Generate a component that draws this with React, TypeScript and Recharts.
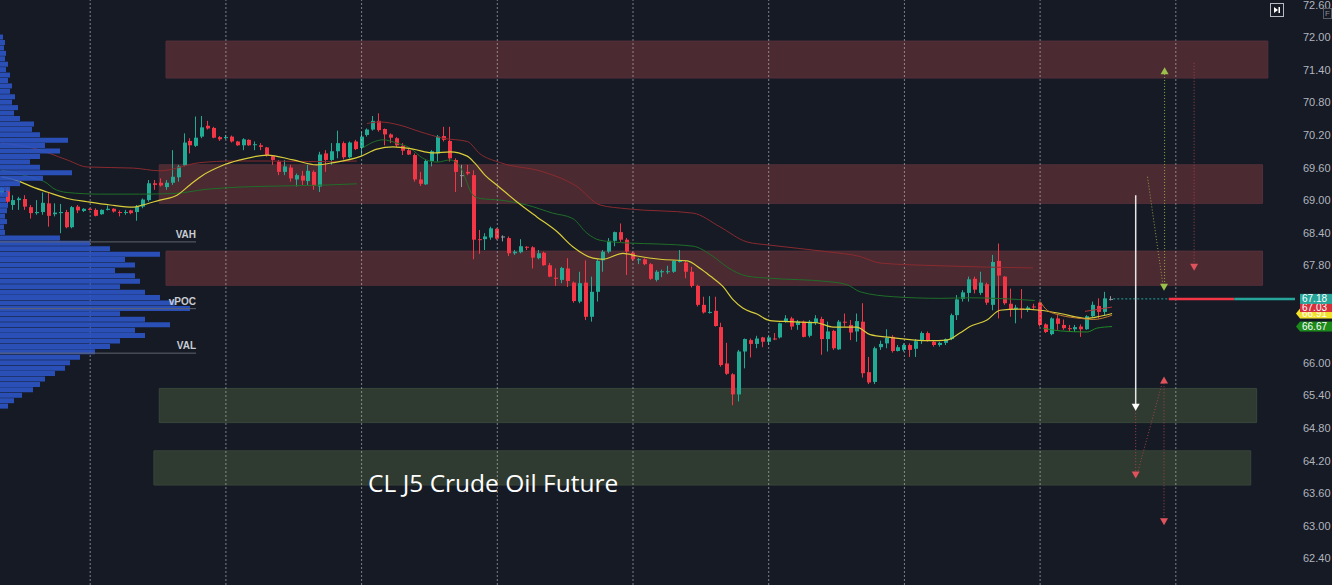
import {
  ComposedChart,
  BarChart,
  Bar,
  Line,
  XAxis,
  YAxis,
  ReferenceArea,
  ReferenceLine,
  ReferenceDot,
} from 'recharts';

const W = 1332;
const H = 585;
const AXIS_W = 37;
const PLOT_W = W - AXIS_W;
const PRICE_MIN = 61.908;
const PRICE_MAX = 72.687;
const IDX_MIN = -0.288;
const IDX_MAX = 219.2;

const BG = '#151a25';
const UP = '#22ab94';
const DOWN = '#f23645';
const FLAT = '#9598a1';
const FONT = '"Liberation Sans", Arial, sans-serif';

// hourly CL J5 candles
const opens = [
  69.13, 69.20, 68.91, 69.00, 69.02, 68.87, 68.76, 68.78, 68.94, 68.74, 68.76, 68.78, 68.50, 68.88, 68.80, 68.84, 68.82, 68.74, 68.82, 68.84,
  68.78, 68.77, 68.81, 68.78, 68.88, 69.00, 69.31, 69.32, 69.24, 69.32, 69.42, 69.64, 70.09, 70.00, 70.17, 70.37, 70.33, 70.16, 70.15, 70.17,
  70.08, 70.01, 70.11, 70.02, 70.01, 69.97, 69.81, 69.71, 69.52, 69.60, 69.38, 69.45, 69.35, 69.52, 69.25, 69.86, 69.74, 69.90, 70.05, 69.79,
  70.08, 69.96, 70.20, 70.30, 70.46, 70.31, 70.21, 70.14, 70.00, 69.92, 69.83, 69.38, 69.29, 69.72, 69.86, 70.18, 70.09, 69.74, 69.46, 69.52,
  69.46, 68.28, 68.28, 68.31, 68.47, 68.33, 68.30, 68.02, 68.04, 68.14, 68.13, 67.93, 68.03, 67.80, 67.57, 67.53, 67.74, 67.48, 67.13, 67.48,
  66.85, 67.31, 67.89, 68.05, 68.25, 68.41, 68.27, 68.03, 67.90, 67.91, 67.82, 67.53, 67.67, 67.68, 67.68, 67.86, 67.85, 67.68, 67.42, 67.07,
  66.93, 66.96, 66.66, 65.99, 65.79, 65.42, 66.21, 66.42, 66.35, 66.47, 66.39, 66.45, 66.47, 66.76, 66.82, 66.70, 66.76, 66.50, 66.74, 66.81,
  66.44, 66.59, 66.25, 66.76, 66.70, 66.58, 66.76, 65.83, 65.65, 66.29, 66.36, 66.48, 66.22, 66.24, 66.33, 66.26, 66.41, 66.55, 66.39, 66.33,
  66.37, 66.44, 66.88, 67.18, 67.29, 67.55, 67.29, 67.45, 67.07, 67.88, 67.59, 67.09, 66.99, 67.00, 66.99, 67.04, 67.11, 66.71, 66.53, 66.82,
  66.70, 66.64, 66.62, 66.67, 66.62, 66.86, 67.05, 66.94, 67.18,
];
const highs = [
  69.24, 69.24, 69.09, 69.06, 69.09, 68.91, 69.00, 69.14, 69.13, 68.94, 68.93, 68.82, 68.89, 68.91, 68.85, 68.85, 68.85, 68.83, 68.90, 68.85,
  68.81, 68.82, 68.82, 68.91, 69.03, 69.37, 69.37, 69.40, 69.37, 69.92, 69.65, 70.23, 70.14, 70.54, 70.55, 70.46, 70.35, 70.18, 70.20, 70.19,
  70.09, 70.14, 70.12, 70.08, 70.05, 69.98, 69.83, 69.74, 69.74, 69.65, 69.49, 69.54, 69.65, 69.55, 69.89, 69.92, 70.05, 70.28, 70.08, 70.08,
  70.11, 70.26, 70.32, 70.55, 70.60, 70.32, 70.23, 70.16, 70.05, 69.95, 69.86, 69.52, 69.74, 69.92, 70.20, 70.35, 70.35, 69.77, 69.65, 69.65,
  69.55, 68.45, 68.39, 68.51, 68.48, 68.35, 68.33, 68.08, 68.28, 68.15, 68.15, 68.08, 68.05, 67.84, 67.74, 67.77, 67.93, 67.50, 67.68, 67.89,
  67.59, 67.91, 68.08, 68.30, 68.42, 68.57, 68.30, 68.05, 67.93, 67.93, 67.84, 67.71, 67.72, 67.79, 67.89, 68.08, 67.88, 67.77, 67.44, 67.22,
  67.23, 67.22, 66.74, 66.37, 65.81, 66.24, 66.45, 66.45, 66.50, 66.48, 66.50, 66.55, 66.74, 66.88, 66.85, 66.79, 66.78, 66.79, 66.88, 66.85,
  66.76, 66.61, 66.79, 66.91, 66.79, 66.91, 67.10, 66.11, 66.30, 66.41, 66.62, 66.51, 66.33, 66.36, 66.36, 66.44, 66.58, 66.58, 66.42, 66.39,
  66.45, 66.91, 67.25, 67.34, 67.59, 67.59, 67.68, 67.48, 67.99, 68.20, 67.60, 67.37, 67.07, 67.36, 67.05, 67.09, 67.13, 66.73, 66.84, 66.88,
  66.80, 66.70, 66.70, 66.71, 66.88, 67.13, 67.19, 67.31, 67.23,
];
const lows = [
  69.09, 68.94, 68.82, 68.82, 68.82, 68.66, 68.73, 68.73, 68.51, 68.70, 68.39, 68.48, 68.48, 68.76, 68.78, 68.81, 68.70, 68.73, 68.81, 68.77,
  68.70, 68.73, 68.74, 68.62, 68.85, 68.97, 69.19, 69.25, 69.19, 69.28, 69.34, 69.62, 69.86, 69.98, 70.14, 70.30, 70.14, 70.09, 70.12, 70.06,
  70.00, 69.92, 70.00, 69.92, 69.92, 69.80, 69.65, 69.46, 69.46, 69.34, 69.25, 69.28, 69.28, 69.19, 69.15, 69.52, 69.65, 69.77, 69.75, 69.77,
  69.92, 69.83, 70.17, 70.28, 70.26, 70.01, 70.05, 69.98, 69.83, 69.83, 69.34, 69.26, 69.28, 69.62, 69.71, 70.08, 69.71, 69.15, 69.24, 69.46,
  67.91, 68.01, 68.08, 68.27, 68.27, 68.24, 67.97, 67.99, 68.02, 68.08, 67.74, 67.91, 67.79, 67.58, 67.42, 67.47, 67.40, 67.11, 67.10, 66.79,
  66.76, 67.13, 67.68, 68.02, 68.15, 68.23, 67.62, 67.88, 67.82, 67.80, 67.53, 67.50, 67.58, 67.64, 67.66, 67.85, 67.56, 67.39, 67.04, 66.91,
  66.91, 66.67, 65.93, 65.78, 65.22, 65.29, 65.90, 66.10, 66.27, 66.29, 66.33, 66.42, 66.45, 66.74, 66.61, 66.61, 66.47, 66.47, 66.70, 66.15,
  66.21, 66.24, 66.24, 66.67, 66.42, 66.39, 65.73, 65.61, 65.61, 66.24, 66.27, 66.19, 66.21, 66.21, 66.11, 66.11, 66.35, 66.39, 66.30, 66.30,
  66.33, 66.42, 66.79, 67.13, 67.13, 67.28, 67.25, 67.07, 66.97, 66.82, 67.07, 66.85, 66.73, 66.82, 66.94, 66.98, 66.67, 66.55, 66.51, 66.61,
  66.61, 66.57, 66.57, 66.48, 66.61, 66.84, 66.82, 66.88, 67.15,
];
const closes = [
  69.22, 68.97, 69.00, 69.03, 68.88, 68.76, 68.78, 68.95, 68.71, 68.77, 68.78, 68.50, 68.87, 68.81, 68.84, 68.82, 68.71, 68.82, 68.84, 68.79,
  68.77, 68.78, 68.76, 68.88, 69.01, 69.31, 69.28, 69.27, 69.32, 69.43, 69.62, 70.06, 70.01, 70.15, 70.34, 70.32, 70.15, 70.12, 70.16, 70.08,
  70.01, 70.12, 70.01, 70.03, 69.98, 69.83, 69.74, 69.52, 69.62, 69.40, 69.46, 69.36, 69.54, 69.26, 69.84, 69.74, 69.90, 70.05, 69.79, 70.06,
  69.94, 70.17, 70.30, 70.46, 70.29, 70.21, 70.15, 70.01, 69.91, 69.84, 69.38, 69.30, 69.72, 69.90, 70.17, 70.11, 69.77, 69.52, 69.46, 69.49,
  68.27, 68.27, 68.33, 68.48, 68.29, 68.33, 68.02, 68.05, 68.15, 68.13, 67.94, 68.02, 67.80, 67.59, 67.55, 67.75, 67.51, 67.14, 67.47, 66.85,
  67.31, 67.88, 68.05, 68.25, 68.41, 68.27, 68.05, 67.91, 67.91, 67.82, 67.55, 67.68, 67.69, 67.69, 67.88, 67.88, 67.68, 67.42, 67.07, 66.93,
  66.94, 66.68, 65.96, 65.80, 65.42, 66.21, 66.44, 66.35, 66.45, 66.39, 66.47, 66.44, 66.73, 66.82, 66.67, 66.76, 66.48, 66.76, 66.82, 66.44,
  66.58, 66.27, 66.76, 66.75, 66.56, 66.77, 65.81, 65.64, 66.27, 66.35, 66.46, 66.22, 66.29, 66.33, 66.24, 66.40, 66.55, 66.41, 66.33, 66.37,
  66.44, 66.88, 67.17, 67.30, 67.54, 67.35, 67.48, 67.11, 67.86, 67.61, 67.10, 66.99, 67.02, 66.99, 67.02, 67.03, 66.70, 66.57, 66.82, 66.72,
  66.64, 66.63, 66.66, 66.62, 66.86, 67.07, 66.94, 67.19, 67.18,
];

// session opens (bar index) - dotted day separators
const sessionBreaks = [15, 38, 61, 84, 107, 130, 153, 176, 199];

// 67.20 and 66.60 sit under the price tags, so they are left out
const priceTicks = [72.6, 72.0, 71.4, 70.8, 70.2, 69.6, 69.0, 68.4, 67.8, 66.0, 65.4, 64.8, 64.2, 63.6, 63.0, 62.4];

// moving averages / session lines: [bar index, price]
const yellowMA: [number, number][] = [
  [0, 69.43], [3.1, 69.34], [5.3, 69.24], [7.7, 69.15], [11.1, 69.03], [14.5, 68.97], [18.4, 68.91], [22.3, 68.87], [23.9, 68.91], [26.8, 69.0],
  [29.7, 69.09], [31.9, 69.28], [34.1, 69.46], [37, 69.62], [40.4, 69.74], [45, 69.83], [49.4, 69.74], [53.4, 69.65], [56.2, 69.69], [60.7, 69.8],
  [63.6, 69.94], [66.3, 69.98], [69.7, 69.94], [73.1, 69.87], [76, 69.89], [78.9, 69.81], [80.2, 69.68], [81.9, 69.46], [84.1, 69.26], [87.3, 68.97],
  [90.7, 68.69], [94.1, 68.42], [96.8, 68.14], [100.2, 67.93], [101.9, 67.91], [105.3, 68.02], [107.7, 67.97], [111.6, 67.91], [116.2, 67.88], [118.4, 67.74],
  [120.1, 67.6], [122.3, 67.4], [124, 67.16], [125.6, 67.01], [128, 66.9], [130.2, 66.78], [133.6, 66.76], [138.2, 66.74], [140.9, 66.66], [144.9, 66.66],
  [147.2, 66.52], [150.6, 66.47], [157.3, 66.41], [160.2, 66.42], [162.4, 66.55], [164.1, 66.67], [167, 66.79], [169.2, 66.97], [172.6, 66.99], [176, 66.97],
  [179.4, 66.91], [184, 66.82], [186.2, 66.86], [188.2, 66.91],
];
const greenA: [number, number][] = [
  [0, 69.55], [5.3, 69.41], [7.7, 69.31], [8.7, 69.22], [11.1, 69.14], [16.7, 69.11], [23.4, 69.11], [29, 69.12], [34.8, 69.2], [40.4, 69.24],
  [47.2, 69.26], [55.6, 69.28], [60.2, 69.3],
];
const greenB: [number, number][] = [
  [61.2, 69.96], [63, 70.07], [64.6, 70.11], [67, 70.05], [69.2, 69.96], [71.4, 69.77], [73.8, 69.7], [76, 69.74], [77.7, 69.61], [79.9, 69.09],
  [81.1, 69.03], [84.5, 69.0], [89, 68.91], [93.4, 68.76], [96.8, 68.66], [99.2, 68.39], [101.4, 68.26], [106, 68.21], [111.6, 68.19], [117.2, 68.15],
  [120.6, 67.96], [122.9, 67.77], [126.3, 67.6], [130.2, 67.56], [139.9, 67.5], [143.3, 67.44], [145.5, 67.31], [151.1, 67.22], [159, 67.19], [164.1, 67.2],
  [175.1, 67.15],
];
const greenC: [number, number][] = [[176.5, 66.64], [179.4, 66.59], [184, 66.57], [185.6, 66.64], [188.2, 66.67]];
const redA: [number, number][] = [
  [0, 70.05], [5.3, 69.96], [11.1, 69.74], [14.5, 69.61], [22.3, 69.59], [26.8, 69.54], [33.6, 69.69], [39.2, 69.72], [45, 69.72], [53.4, 69.71],
  [60.2, 69.72],
];
const redB: [number, number][] = [
  [61.9, 70.41], [64.1, 70.44], [67.5, 70.38], [70.9, 70.26], [74.8, 70.14], [78.9, 70.08], [81.1, 69.85], [84.5, 69.69], [91.8, 69.52], [97.5, 69.25],
  [101.4, 68.91], [106, 68.84], [117.2, 68.76], [121.7, 68.51], [126.3, 68.23], [130.2, 68.17], [139.9, 68.05], [145.5, 67.96], [148.9, 67.84], [159, 67.79],
  [174.8, 67.75],
];
const redC: [number, number][] = [[183.6, 66.95], [186, 66.99], [188.2, 67.03]];
const orangeC: [number, number][] = [[176, 67.13], [177.2, 66.97], [179.4, 66.88], [182.8, 66.82], [185, 66.8], [188.2, 66.88]];

// supply / demand zones: [from bar, to bar, top price, bottom price]
const redZones: [number, number, number, number][] = [
  [27.85, 214.6, 71.93, 71.25],
  [26.7, 213.7, 69.65, 68.94],
  [27.85, 213.7, 68.06, 67.43],
];
const greenZones: [number, number, number, number][] = [
  [26.7, 212.7, 65.53, 64.9],
  [25.8, 211.7, 64.38, 63.75],
];

// volume profile (left side)
const profilePrices = [
  72.0, 71.9, 71.8, 71.7, 71.6, 71.5, 71.4, 71.3, 71.2, 71.1, 71.0, 70.9, 70.8, 70.7, 70.6, 70.5, 70.4, 70.3, 70.2, 70.1,
  70.0, 69.9, 69.8, 69.7, 69.6, 69.5, 69.4, 69.3, 69.2, 69.1, 69.0, 68.9, 68.8, 68.7, 68.6, 68.5, 68.4, 68.3, 68.2, 68.1,
  68.0, 67.9, 67.8, 67.7, 67.6, 67.5, 67.4, 67.3, 67.2, 67.1, 67.0, 66.9, 66.8, 66.7, 66.6, 66.5, 66.4, 66.3, 66.2, 66.1,
  66.0, 65.9, 65.8, 65.7, 65.6, 65.5, 65.4, 65.3, 65.2,
];
const profileVols = [
  3, 5, 4, 6, 5, 8, 6, 10, 8, 12, 10, 15, 12, 18, 14, 20, 34, 32, 40, 68,
  45, 60, 40, 30, 40, 72, 43, 20, 10, 8, 6, 8, 7, 5, 7, 4, 5, 60, 90, 110,
  160, 125, 135, 115, 135, 140, 120, 145, 160, 175, 190, 120, 145, 170, 135, 145, 120, 110, 95, 80,
  70, 65, 55, 45, 40, 33, 22, 14, 8,
];
const valueArea = [
  { name: 'VAH', price: 68.23 },
  { name: 'vPOC', price: 67.0 },
  { name: 'VAL', price: 66.18 },
];

// price tags on the axis
const axisTags = [
  { price: 66.67, fill: '#1b8a1b', notch: true },
  { price: 66.91, fill: '#f2e22b', notch: true },
  { price: 67.03, fill: '#d6303c', notch: false },
  { price: 67.18, fill: '#26a69a', notch: false },
];
const lastPrice = 67.18;

// drawn projections: [x1, p1, x2, p2, colour, dash, width]
const projections: [number, number, number, number, string, string, number][] = [
  [192.2, 69.09, 192.2, 65.2, '#e6e6e6', '', 1.5],
  [197.1, 71.38, 197.1, 67.42, '#8fae46', '1 2', 1],
  [194.2, 69.43, 196.8, 67.45, '#9a9a48', '1 2', 1],
  [202.1, 71.53, 202.1, 67.8, '#a3444c', '1 2', 1],
  [197.0, 65.68, 197.0, 63.1, '#a3444c', '1 2', 1],
  [192.2, 65.13, 192.2, 63.95, '#a3444c', '1 2', 1],
  [196.7, 65.63, 192.5, 63.97, '#a3444c', '1 2', 1],
];
// arrow heads: [bar, price, up?, colour]
const arrowHeads: [number, number, boolean, string][] = [
  [192.2, 65.12, false, '#ffffff'],
  [197.1, 71.45, true, '#9bc04c'],
  [197.0, 67.33, false, '#9bc04c'],
  [202.1, 67.7, false, '#e0525c'],
  [197.0, 65.75, true, '#e0525c'],
  [192.2, 63.87, false, '#e0525c'],
  [197.0, 63.01, false, '#e0525c'],
];

const candles = opens.map((o, i) => ({ i, open: o, high: highs[i], low: lows[i], close: closes[i] }));
const profile = profilePrices.map((p, k) => ({ price: p, vol: profileVols[k] }));
const pts = (arr: [number, number][]) => arr.map(([i, v]) => ({ i, v }));

const Candle = (props: any) => {
  const { x, y, width, height, payload } = props;
  if (!payload) return null;
  const { open, close, high, low } = payload;
  const col = close > open ? UP : close < open ? DOWN : FLAT;
  const k = high > low ? height / (high - low) : 0;
  const yo = y + (high - open) * k;
  const yc = y + (high - close) * k;
  const top = Math.min(yo, yc);
  const bh = Math.max(1, Math.abs(yo - yc));
  const bx = Math.round(x + width / 2 - 2);
  return (
    <g>
      <line x1={bx + 1.5} x2={bx + 1.5} y1={y} y2={y + height} stroke={col} strokeWidth={1} />
      <rect x={bx} y={top} width={4} height={bh} fill={col} />
    </g>
  );
};

const PriceTick = (p: any) => (
  <text x={p.x} y={p.y} dy={4} fill="#b2b5be" fontSize={11} fontFamily={FONT}>
    {Number(p.payload.value).toFixed(2)}
  </text>
);

const Head = (up: boolean, color: string) => (p: any) => {
  const { cx, cy } = p;
  const d = up
    ? `M${cx},${cy} L${cx - 4},${cy + 7} L${cx + 4},${cy + 7} Z`
    : `M${cx},${cy} L${cx - 4},${cy - 7} L${cx + 4},${cy - 7} Z`;
  return <path d={d} fill={color} />;
};

const Tag = (fill: string, notch: boolean, value: number) => (p: any) => {
  const { cx, cy } = p;
  return (
    <g>
      {notch && <path d={`M${cx + 1},${cy} L${cx + 5},${cy - 5} L${cx + 5},${cy + 5} Z`} fill={fill} />}
      <rect x={cx + 5} y={cy - 5} width={32} height={10} fill={fill} />
      <text x={cx + 7} y={cy + 3.5} fill="#ffffff" fontSize={10} fontFamily={FONT}>
        {value.toFixed(2)}
      </text>
    </g>
  );
};

const Title = (p: any) => (
  <text x={p.cx} y={p.cy} dy={8} fill="#ffffff" fontSize={24.5} fontFamily='"Open Sans", sans-serif'>
    CL J5 Crude Oil Future
  </text>
);

const VaLabel = (name: string) => (p: any) => (
  <text x={p.cx} y={p.cy} dy={-4} textAnchor="end" fill="#c9ccd3" fontSize={10} fontWeight="bold" fontFamily={FONT}>
    {name}
  </text>
);

const lineProps = { type: 'monotone' as const, dot: false, activeDot: false, isAnimationActive: false, dataKey: 'v' };

export default function App() {
  return (
    <div style={{ position: 'absolute', left: 0, top: 0, width: W, height: H, background: BG, overflow: 'hidden' }}>
      <ComposedChart width={W} height={H} data={candles} margin={{ top: 0, right: 0, bottom: 0, left: 0 }}>
        <XAxis dataKey="i" type="number" domain={[IDX_MIN, IDX_MAX]} hide allowDataOverflow />
        <YAxis
          orientation="right"
          type="number"
          domain={[PRICE_MIN, PRICE_MAX]}
          allowDataOverflow
          ticks={priceTicks}
          interval={0}
          width={AXIS_W}
          axisLine={false}
          tickLine={false}
          tick={<PriceTick />}
        />
        {redZones.map(([x1, x2, y1, y2], k) => (
          <ReferenceArea key={'rz' + k} x1={x1} x2={x2} y1={y1} y2={y2} fill="#4b2a31" fillOpacity={1} stroke="#55303a" ifOverflow="visible" />
        ))}
        {greenZones.map(([x1, x2, y1, y2], k) => (
          <ReferenceArea key={'gz' + k} x1={x1} x2={x2} y1={y1} y2={y2} fill="#2f3a30" fillOpacity={1} stroke="#38463a" ifOverflow="visible" />
        ))}
        {sessionBreaks.map((i) => (
          <ReferenceLine key={'s' + i} x={i} stroke="#c0c4cc" strokeOpacity={0.6} strokeDasharray="2 2" />
        ))}
        <Line {...lineProps} data={pts(redA)} stroke="#8a2a2e" strokeWidth={1} />
        <Line {...lineProps} data={pts(redB)} stroke="#8a2a2e" strokeWidth={1} />
        <Line {...lineProps} data={pts(greenA)} stroke="#1f6e28" strokeWidth={1} />
        <Line {...lineProps} data={pts(greenB)} stroke="#1f6e28" strokeWidth={1} />
        <Line {...lineProps} data={pts(greenC)} stroke="#1f8a28" strokeWidth={1} />
        <Line {...lineProps} data={pts(yellowMA)} stroke="#d9cd3a" strokeWidth={1.2} />
        <Line {...lineProps} data={pts(orangeC)} stroke="#c7782e" strokeWidth={1} />
        <Line {...lineProps} data={pts(redC)} stroke="#b8323a" strokeWidth={1} />
        <Bar dataKey={(d: any) => [d.low, d.high]} barSize={4} shape={<Candle />} isAnimationActive={false} />

        {projections.map(([x1, y1, x2, y2, c, dash, w], k) => (
          <ReferenceLine
            key={'pj' + k}
            segment={[{ x: x1, y: y1 }, { x: x2, y: y2 }]}
            stroke={c}
            strokeWidth={w}
            strokeDasharray={dash || undefined}
            ifOverflow="visible"
          />
        ))}
        {arrowHeads.map(([x, y, up, c], k) => (
          <ReferenceDot key={'ah' + k} x={x} y={y} r={4} shape={Head(up, c)} ifOverflow="visible" />
        ))}
        <ReferenceLine
          segment={[{ x: 188.4, y: lastPrice }, { x: 197.8, y: lastPrice }]}
          stroke="#26a69a"
          strokeDasharray="2 2"
          ifOverflow="visible"
        />
        <ReferenceLine segment={[{ x: 197.8, y: lastPrice }, { x: 208.9, y: lastPrice }]} stroke={DOWN} strokeWidth={2.5} ifOverflow="visible" />
        <ReferenceLine segment={[{ x: 208.9, y: lastPrice }, { x: IDX_MAX, y: lastPrice }]} stroke="#26a69a" strokeWidth={2.5} ifOverflow="visible" />
        <ReferenceDot x={62.1} y={63.77} r={1} shape={Title} ifOverflow="visible" />
        {axisTags.map((t, k) => (
          <ReferenceDot key={'tag' + k} x={IDX_MAX} y={t.price} r={1} shape={Tag(t.fill, t.notch, t.price)} ifOverflow="visible" />
        ))}
      </ComposedChart>

      <div style={{ position: 'absolute', left: 0, top: 0, pointerEvents: 'none' }}>
        <BarChart layout="vertical" width={PLOT_W} height={H} data={profile} margin={{ top: 0, right: 0, bottom: 0, left: 0 }}>
          <XAxis type="number" domain={[0, PLOT_W]} hide allowDataOverflow />
          <YAxis type="number" dataKey="price" domain={[PRICE_MIN, PRICE_MAX]} hide allowDataOverflow reversed />
          <Bar dataKey="vol" fill="#2c57c9" fillOpacity={0.9} barSize={5} isAnimationActive={false} />
          {valueArea.map((v) => (
            <ReferenceLine key={v.name} segment={[{ x: 0, y: v.price }, { x: 196, y: v.price }]} stroke="#60646f" ifOverflow="visible" />
          ))}
          {valueArea.map((v) => (
            <ReferenceDot key={'l' + v.name} x={196} y={v.price} r={1} shape={VaLabel(v.name)} ifOverflow="visible" />
          ))}
        </BarChart>
      </div>

      <div
        style={{
          position: 'absolute',
          left: 1270,
          top: 3,
          width: 12,
          height: 12,
          border: '1px solid #b8bbc2',
          display: 'flex',
          alignItems: 'center',
          justifyContent: 'center',
        }}
      >
        <svg width={8} height={8} viewBox="0 0 8 8">
          <path d="M1,1 L5,4 L1,7 Z" fill="#ffffff" />
          <rect x={5.5} y={1} width={1.5} height={6} fill="#ffffff" />
        </svg>
      </div>
      <div
        style={{
          position: 'absolute',
          left: 1323,
          top: 8,
          fontSize: 8,
          lineHeight: '9px',
          color: '#8a8d96',
          border: '1px solid #5a5d66',
          padding: '0 1px',
          fontFamily: FONT,
        }}
      >
        F
      </div>
    </div>
  );
}
